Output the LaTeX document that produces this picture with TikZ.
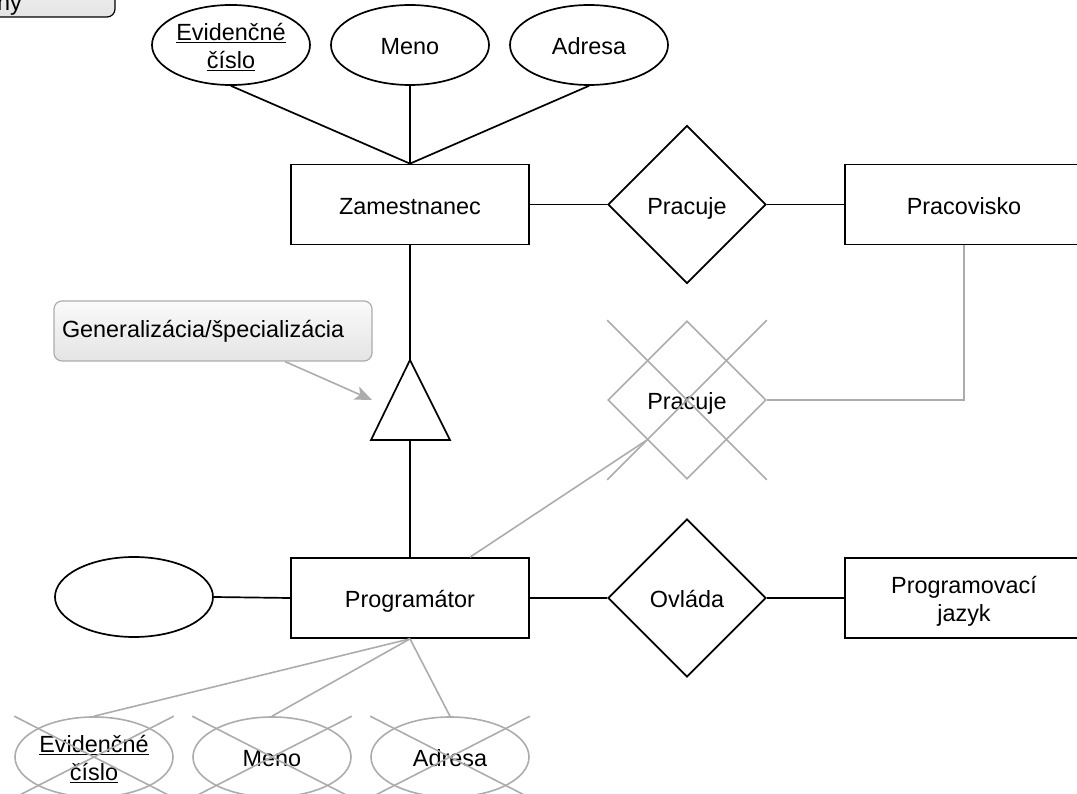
\documentclass[tikz,border=0pt]{standalone}
\usepackage{fontspec}
\setmainfont{Liberation Sans}
\usetikzlibrary{shapes.geometric,arrows.meta,calc}

\definecolor{faded}{RGB}{172,172,172}
\definecolor{notetop}{RGB}{250,250,250}
\definecolor{notebot}{RGB}{228,228,228}

\begin{document}
\begin{tikzpicture}[x=1pt,y=-1pt,
  every node/.style={font=\fontsize{23.4}{28}\selectfont, text=black},
  lbl/.style={text height=23.9pt, text depth=4.7pt},
  twolines/.style={text height=51.9pt, text depth=4.7pt},
  ent/.style={draw, lbl, line width=1.7pt, minimum width=238pt, minimum height=80pt, inner sep=0pt, align=center},
  attr/.style={draw, lbl, ellipse, line width=1.7pt, minimum width=158pt, minimum height=80pt, inner sep=0pt, align=center},
  rel/.style={draw, lbl, diamond, line width=1.7pt, minimum width=158pt, minimum height=158pt, inner sep=0pt},
  con/.style={line width=1.7pt},
  ghostline/.style={draw=faded, line width=1.6pt},
  ghostattr/.style={attr, draw=faded, line width=1.6pt},
  ghostrel/.style={rel, draw=faded, line width=1.6pt},
  note/.style={draw=faded, line width=1.2pt, rounded corners=8pt, top color=notetop, bottom color=notebot},
]
\useasboundingbox (0,0) rectangle (1077,794);

% partially visible note in the corner
\begin{scope}
\clip (0,0) rectangle (1077,794);
\path[draw=black, line width=1.2pt, rounded corners=8pt, top color=notetop, bottom color=notebot]
  (-60,-40) rectangle (115,17);
\node[anchor=base west, inner sep=0pt] (cornertext) at (-3,11) {ny};
\end{scope}

% attributes of the employee entity
\node[attr, twolines] (evc) at (231,45) {\underline{Evidenčné}\\\underline{číslo}};
\node[attr] (meno) at (410,45) {Meno};
\node[attr] (adr) at (589,45) {Adresa};

% entities and relationships
\node[ent] (zam) at (410,204.5) {Zamestnanec};
\node[rel] (prac) at (687,204.5) {Pracuje};
\node[ent] (pracov) at (964,204.5) {Pracovisko};

\node[ent] (prog) at (410,598) {Programátor};
\node[rel] (ovl) at (687,598) {Ovláda};
\node[ent, twolines] (jazyk) at (964,598) {Programovací\\jazyk};
\node[attr] (empty) at (134,597) {};

% generalization triangle
\coordinate (tritop) at (410,360);
\coordinate (tribot) at (410,440);
\draw[con, line join=miter] (tritop) -- (450,440) -- (371,440) -- cycle;

% note with arrow pointing at the triangle
\node[note, minimum width=318pt, minimum height=60pt, text width=302pt, align=left, inner sep=8pt] (gen) at (213,331) {Generalizácia/špecializácia};
\coordinate (gentip) at (372,400);
\draw[ghostline, -{Stealth[length=17pt, width=14pt, inset=4pt]}] (gen.-23.5) -- (gentip);

% black connectors
\draw[con] (evc.south) -- (zam.north);
\draw[con] (meno.south) -- (zam.north);
\draw[con] (adr.south) -- (zam.north);
\draw[con] (zam.east) -- (prac.west);
\draw[con] (prac.east) -- (pracov.west);
\draw[con] (zam.south) -- (tritop);
\draw[con] (tribot) -- (prog.north);
\draw[con] (empty.east) -- (prog.west);
\draw[con] (prog.east) -- (ovl.west);
\draw[con] (ovl.east) -- (jazyk.west);

% crossed-out relationship
\node[ghostrel] (prac2) at (687,400) {Pracuje};
\draw[ghostline] (prac2.west |- prac2.north) -- (prac2.east |- prac2.south);
\draw[ghostline] (prac2.east |- prac2.north) -- (prac2.west |- prac2.south);
\draw[ghostline] (prac2.east) -- (pracov.south |- prac2.east) -- (pracov.south);
\draw[ghostline] ([xshift=60pt]prog.north) -- ($(prac2.west)!0.5!(prac2.south)$);

% crossed-out attributes below the programmer
\node[ghostattr, twolines] (evc2) at (94,757) {\underline{Evidenčné}\\\underline{číslo}};
\node[ghostattr] (meno2) at (272,757) {Meno};
\node[ghostattr] (adr2) at (450,757) {Adresa};
\foreach \a in {evc2,meno2,adr2}{
  \draw[ghostline] (\a.west |- \a.north) -- (\a.east |- \a.south);
  \draw[ghostline] (\a.east |- \a.north) -- (\a.west |- \a.south);
  \draw[ghostline] (prog.south) -- (\a.north);
}
\end{tikzpicture}
\end{document}
